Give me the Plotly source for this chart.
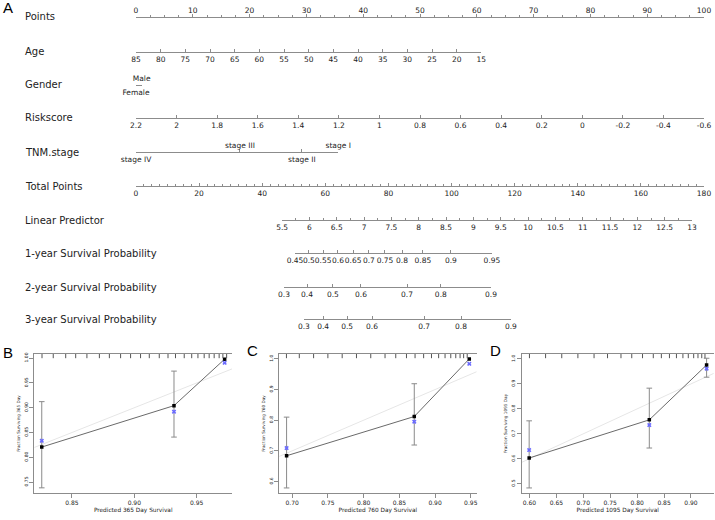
import plotly.graph_objects as go

W, H = 715, 520
FONT = "DejaVu Sans"
LINE = "#8c8c8c"
TXT = "#222222"

# ---------------- panel A: nomogram ----------------
row_names = ["Points", "Age", "Gender", "Riskscore", "TNM.stage", "Total Points",
             "Linear Predictor", "1-year Survival Probability",
             "2-year Survival Probability", "3-year Survival Probability"]

points_ticks = list(range(0, 101, 10))
age_ticks = [85, 80, 75, 70, 65, 60, 55, 50, 45, 40, 35, 30, 25, 20, 15]
age_span_pts = [0, 60.8]          # points where age 85 and age 15 sit
gender_labels = ["Female", "Male"]
gender_pts = [0, 1.0]
risk_ticks = [2.2, 2, 1.8, 1.6, 1.4, 1.2, 1, 0.8, 0.6, 0.4, 0.2, 0, -0.2, -0.4, -0.6]
stage_labels = ["stage IV", "stage III", "stage II", "stage I"]
stage_pts = [0, 18.3, 29.2, 35.6]
total_ticks = list(range(0, 181, 20))
lp_ticks = [5.5, 6, 6.5, 7, 7.5, 8, 8.5, 9, 9.5, 10, 10.5, 11, 11.5, 12, 12.5, 13]
lp_span_total = [46.3, 176.2]     # total points where LP 5.5 and LP 13 sit
surv1_labels = ["0.45", "0.5", "0.55", "0.6", "0.65", "0.7", "0.75", "0.8", "0.85", "0.9", "0.95"]
surv1_total = [50.4, 54.8, 59.3, 64.0, 68.8, 73.8, 78.9, 84.3, 90.9, 99.8, 112.8]
surv2_labels = ["0.3", "0.4", "0.5", "0.6", "0.7", "0.8", "0.9"]
surv2_total = [46.9, 54.2, 62.4, 71.3, 85.9, 96.6, 112.5]
surv3_labels = ["0.3", "0.4", "0.5", "0.6", "0.7", "0.8", "0.9"]
surv3_total = [53.2, 59.3, 66.9, 74.8, 91.3, 103.0, 118.8]

# ---------------- panels B-D: calibration ----------------
pred_b = [0.8258, 0.9318, 0.9724]
obs_b = [0.8207, 0.9042, 0.998]
corr_b = [0.8333, 0.892, 0.9906]
lo_b = [0.7384, 0.8408, None]
hi_b = [0.9123, 0.9739, None]
rug_b = [0.826, 0.835, 0.845, 0.853, 0.862, 0.872, 0.880, 0.889, 0.897, 0.905, 0.912,
         0.920, 0.927, 0.933, 0.940, 0.946, 0.951, 0.956, 0.960, 0.964, 0.968, 0.971, 0.974]

pred_c = [0.6922, 0.8709, 0.9479]
obs_c = [0.684, 0.812, 1.0]
corr_c = [0.709, 0.795, 0.984]
lo_c = [0.579, 0.719, None]
hi_c = [0.810, 0.919, None]
rug_c = [0.692, 0.71, 0.73, 0.75, 0.77, 0.79, 0.81, 0.83, 0.845, 0.86, 0.872, 0.884,
         0.895, 0.905, 0.914, 0.922, 0.929, 0.935, 0.94, 0.945]

pred_d = [0.5995, 0.8226, 0.929]
obs_d = [0.603, 0.756, 0.976]
corr_d = [0.635, 0.735, 0.961]
lo_d = [0.483, 0.643, 0.927]
hi_d = [0.752, 0.883, 1.003]
rug_d = [0.60, 0.63, 0.66, 0.69, 0.72, 0.745, 0.77, 0.79, 0.81, 0.83, 0.845, 0.86,
         0.873, 0.885, 0.895, 0.905, 0.913, 0.92, 0.926]

ideal = [0, 1]

X0, X1 = 136, 704   # pixel extent of the 0-100 / 0-180 scales


def pdom(p0, p1, full):
    return [(X0 + p0 / full * (X1 - X0)) / W, (X0 + p1 / full * (X1 - X0)) / W]


fig = go.Figure()
axes = {}

# calibration panels use axes 1-3
cal = [
    dict(pred=pred_b, obs=obs_b, corr=corr_b, lo=lo_b, hi=hi_b, rug=rug_b, days="365",
         xpx=[34.4, 232], xr=[0.8199, 0.9783], yr=[0.728, 1.0084],
         xt=[0.85, 0.90, 0.95], yt=[0.75, 0.80, 0.85, 0.90, 0.95, 1.00], xf=".2f", yf=".2f"),
    dict(pred=pred_c, obs=obs_c, corr=corr_c, lo=lo_c, hi=hi_c, rug=rug_c, days="760",
         xpx=[279.3, 476.5], xr=[0.682, 0.958], yr=[0.5625, 1.016],
         xt=[0.70, 0.75, 0.80, 0.85, 0.90, 0.95], yt=[0.6, 0.7, 0.8, 0.9, 1.0], xf=".2f", yf=".1f"),
    dict(pred=pred_d, obs=obs_d, corr=corr_d, lo=lo_d, hi=hi_d, rug=rug_d, days="1095",
         xpx=[521.9, 713.6], xr=[0.586, 0.942], yr=[0.4627, 1.02],
         xt=[0.60, 0.65, 0.70, 0.75, 0.80, 0.85, 0.90], yt=[0.5, 0.6, 0.7, 0.8, 0.9, 1.0], xf=".2f", yf=".1f"),
]

for i, c in enumerate(cal, start=1):
    xa = "x" if i == 1 else f"x{i}"
    ya = "y" if i == 1 else f"y{i}"
    common = dict(xaxis=xa, yaxis=ya, showlegend=False, hoverinfo="skip")
    fig.add_trace(go.Scatter(x=ideal, y=ideal, mode="lines",
                             line=dict(color="#e6e6e6", width=1), **common))
    ex, ey = [], []
    for x, lo, hi in zip(c["pred"], c["lo"], c["hi"]):
        if lo is None:
            continue
        ex += [x, x, None]
        ey += [lo, hi, None]
    fig.add_trace(go.Scatter(x=ex, y=ey, mode="lines+markers",
                             line=dict(color="#8a8a8a", width=1),
                             marker=dict(symbol="line-ew", size=4, line=dict(color="#8a8a8a", width=1)),
                             **common))
    fig.add_trace(go.Scatter(x=c["pred"], y=c["obs"], mode="lines+markers",
                             line=dict(color="#6a6a6a", width=1),
                             marker=dict(symbol="square", size=3.5, color="black"), **common))
    fig.add_trace(go.Scatter(x=c["pred"], y=c["corr"], mode="markers",
                             marker=dict(symbol="x", size=4, color="#6b6bff"), **common))
    fig.add_trace(go.Scatter(x=c["rug"], y=[c["yr"][1]] * len(c["rug"]), mode="markers",
                             marker=dict(symbol="line-ns", size=6, line=dict(color="#555555", width=1)),
                             **common))

    axes["xaxis" if i == 1 else f"xaxis{i}"] = dict(
        domain=[c["xpx"][0] / W, c["xpx"][1] / W], range=c["xr"], anchor=ya,
        tickmode="array", tickvals=c["xt"], tickformat=c["xf"], ticks="outside", ticklen=4,
        tickcolor=LINE, showline=True, linecolor=LINE, mirror=True, showgrid=False,
        zeroline=False, automargin=False, tickangle=0,
        tickfont=dict(family=FONT, size=6, color=TXT),
        title=dict(text=f"Predicted {c['days']} Day Survival", standoff=2,
                   font=dict(family=FONT, size=5.8, color=TXT)))
    axes["yaxis" if i == 1 else f"yaxis{i}"] = dict(
        domain=[1 - 493 / H, 1 - 354 / H], range=c["yr"], anchor=xa,
        tickmode="array", tickvals=c["yt"], tickformat=c["yf"], ticks="outside", ticklen=4,
        tickcolor=LINE, showline=True, linecolor=LINE, showgrid=False, zeroline=False,
        automargin=False, tickangle=-90,
        tickfont=dict(family=FONT, size=4.5, color=TXT),
        title=dict(text=f"Fraction Surviving {c['days']} Day", standoff=3,
                   font=dict(family=FONT, size=4.2, color=TXT)))

# nomogram rows, each on its own thin axis band
k = [3]


def nomo(y_line, dom, rng, vals, text, above=False, minor=None):
    k[0] += 1
    n = k[0]
    yb = 1 - y_line / H
    axes[f"yaxis{n}"] = dict(domain=[yb, yb + 0.02], range=[0, 1], visible=False,
                             anchor=f"x{n}", fixedrange=True)
    xa = dict(domain=dom, range=rng, anchor=f"y{n}", tickmode="array", tickvals=vals,
              ticktext=text, showline=True, linecolor=LINE, linewidth=1, ticks="inside",
              ticklen=3, tickcolor=LINE, tickangle=0, showgrid=False, zeroline=False,
              automargin=False, fixedrange=True, ticklabeloverflow="allow",
              ticklabelposition="inside" if above else "outside",
              tickfont=dict(family=FONT, size=7.5, color=TXT))
    if above:
        xa["ticklabelstandoff"] = -2
    if minor:
        xa["minor"] = dict(tickmode="linear", tick0=rng[0], dtick=minor, ticks="inside",
                           ticklen=2, tickcolor=LINE, showgrid=False)
    axes[f"xaxis{n}"] = xa
    fig.add_trace(go.Scatter(x=list(rng), y=[0.5, 0.5], mode="markers",
                             marker=dict(opacity=0), xaxis=f"x{n}", yaxis=f"y{n}",
                             showlegend=False, hoverinfo="skip"))


row_y = [17, 52, 85, 118, 152, 186, 220, 253, 287, 319]

nomo(row_y[0], pdom(0, 100, 100), [0, 100], points_ticks, [str(v) for v in points_ticks],
     above=True, minor=2.5)
nomo(row_y[1], pdom(age_span_pts[0], age_span_pts[1], 100), [age_ticks[0], age_ticks[-1]],
     age_ticks, [str(v) for v in age_ticks])
nomo(row_y[2], pdom(gender_pts[0], gender_pts[1], 100), gender_pts,
     gender_pts[:1], gender_labels[:1])
nomo(row_y[2], pdom(gender_pts[0], gender_pts[1], 100), gender_pts,
     gender_pts[1:], gender_labels[1:], above=True)
nomo(row_y[3], pdom(0, 100, 100), [risk_ticks[0], risk_ticks[-1]], risk_ticks,
     [f"{v:g}" for v in risk_ticks])
nomo(row_y[4], pdom(stage_pts[0], stage_pts[-1], 100), [stage_pts[0], stage_pts[-1]],
     stage_pts[0::2], stage_labels[0::2])
nomo(row_y[4], pdom(stage_pts[0], stage_pts[-1], 100), [stage_pts[0], stage_pts[-1]],
     stage_pts[1::2], stage_labels[1::2], above=True)
nomo(row_y[5], pdom(0, 180, 180), [0, 180], total_ticks, [str(v) for v in total_ticks],
     minor=2.5)
nomo(row_y[6], pdom(lp_span_total[0], lp_span_total[1], 180), [lp_ticks[0], lp_ticks[-1]],
     lp_ticks, [f"{v:g}" for v in lp_ticks], minor=0.25)
for yl, lab, tot in [(row_y[7], surv1_labels, surv1_total),
                     (row_y[8], surv2_labels, surv2_total),
                     (row_y[9], surv3_labels, surv3_total)]:
    nomo(yl, pdom(tot[0], tot[-1], 180), [tot[0], tot[-1]], tot, lab)

annotations = []
for name, yl in zip(row_names, row_y):
    annotations.append(dict(text=name, x=23 / W, y=1 - yl / H, xref="paper", yref="paper",
                            xanchor="left", yanchor="middle", showarrow=False,
                            font=dict(family=FONT, size=10, color=TXT)))
for letter, lx, ly in [("A", 1, 8), ("B", 1, 352), ("C", 245, 350), ("D", 488, 350)]:
    annotations.append(dict(text=letter, x=lx / W, y=1 - ly / H, xref="paper", yref="paper",
                            xanchor="left", yanchor="middle", showarrow=False,
                            font=dict(family="Liberation Sans", size=15, color="black")))

fig.update_layout(
    template="none",
    width=W, height=H, autosize=False,
    margin=dict(l=0, r=0, t=0, b=0),
    paper_bgcolor="white", plot_bgcolor="rgba(0,0,0,0)",
    showlegend=False,
    annotations=annotations,
    **axes,
)

fig.write_html("out.html", config={"displayModeBar": False},
               post_script="document.body.style.margin='0';document.body.style.overflow='hidden';")
